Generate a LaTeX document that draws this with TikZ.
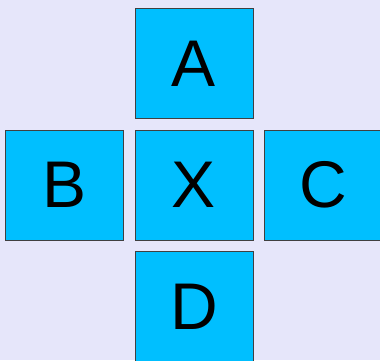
\documentclass[tikz,border=0pt]{standalone}
\usepackage{fontspec}
\setmainfont{Liberation Sans}
\usetikzlibrary{positioning}
\definecolor{bgcol}{HTML}{E6E6FA}
\definecolor{boxcol}{HTML}{00BFFF}

\begin{document}
\begin{tikzpicture}[x=1pt,y=-1pt,node distance=10.5pt,
  cell/.style={draw=black!75,line width=0.8pt,fill=boxcol,inner sep=0pt,
    minimum width=118pt,minimum height=110pt,font=\fontsize{66}{66}\selectfont}]
% background and frame
\fill[bgcol] (0,0) rectangle (380,360);
\useasboundingbox (0,0) rectangle (380,360);
\clip (0,0) rectangle (380,360);
% centre cell and its neighbours
\node[cell] (x) at (194,185) {X};
\node[cell,above=of x] (a) {A};
\node[cell,left=of x] (b) {B};
\node[cell,right=of x] (c) {C};
\node[cell,below=of x] (d) {D};
\end{tikzpicture}
\end{document}
